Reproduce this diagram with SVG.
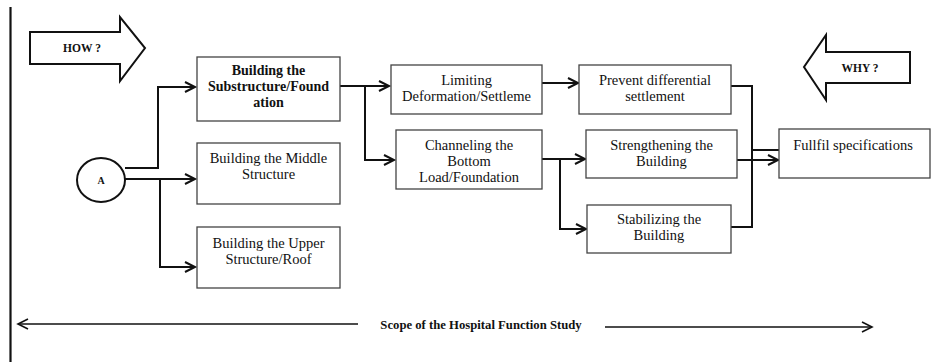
<svg xmlns="http://www.w3.org/2000/svg" width="935" height="362" viewBox="0 0 935 362">
<style>
.box{fill:#fff;stroke:#444;stroke-width:1.3}
.t{font-family:"Liberation Serif","Times New Roman",serif;font-size:14.5px;fill:#111;text-anchor:middle}
.b{font-weight:bold}
.s{font-size:11.5px}
.c{fill:none;stroke:#111;stroke-width:2}
.big{fill:#fff;stroke:#111;stroke-width:2}
</style>
<defs>
<marker id="ah" markerUnits="userSpaceOnUse" markerWidth="14" markerHeight="14" refX="11" refY="6" orient="auto">
<path d="M1,1 L11,6 L1,11" fill="none" stroke="#111" stroke-width="2"/>
</marker>
<marker id="ahl" markerUnits="userSpaceOnUse" markerWidth="14" markerHeight="14" refX="11" refY="6" orient="auto">
<path d="M1,1 L11,6 L1,11" fill="none" stroke="#111" stroke-width="1.6"/>
</marker>
</defs>
<rect width="935" height="362" fill="#fff"/>
<line x1="10.5" y1="7" x2="10.5" y2="362" stroke="#111" stroke-width="2.2"/>

<g id="how">
<polygon class="big" points="30,32 120,32 120,17 145,48 120,81 120,64 30,64"/>
<text class="t b s" x="82" y="52">HOW ?</text>
</g>
<g id="why">
<polygon class="big" points="910,52 826,52 826,35 804,67 826,100 826,83 910,83"/>
<text class="t b s" x="860" y="72">WHY ?</text>
</g>

<g id="connectors">
<polyline class="c" points="125,168 158,168 158,87 195,87" marker-end="url(#ah)"/>
<polyline class="c" points="125,179 195,179" marker-end="url(#ah)"/>
<polyline class="c" points="160,179 160,267 195,267" marker-end="url(#ah)"/>
<polyline class="c" points="340,86 389,86" marker-end="url(#ah)"/>
<polyline class="c" points="365,86 365,160 394,160" marker-end="url(#ah)"/>
<polyline class="c" points="542,83 578,83" marker-end="url(#ah)"/>
<polyline class="c" points="542,159 585,159" marker-end="url(#ah)"/>
<polyline class="c" points="560,159 560,229 586,229" marker-end="url(#ah)"/>
<polyline class="c" points="731,86 752,86 752,150 779,150"/>
<polyline class="c" points="731,227 752,227 752,150"/>
<polyline class="c" points="737,160 778,160" marker-end="url(#ah)"/>
<polyline fill="none" stroke="#111" stroke-width="1.6" points="358,324 18,324" marker-end="url(#ahl)"/>
<polyline fill="none" stroke="#111" stroke-width="1.6" points="605,327 872,327" marker-end="url(#ahl)"/>
</g>

<g id="nodeA">
<ellipse cx="101" cy="180" rx="24" ry="22" fill="#fff" stroke="#111" stroke-width="2"/>
<text class="t b" x="101" y="184" style="font-size:10px">A</text>
</g>

<g id="n1">
<rect class="box" x="197" y="57" width="143" height="64"/>
<text class="t b" x="268.5" y="75" style="font-size:14px">Building the</text>
<text class="t b" x="268.5" y="91" style="font-size:14px">Substructure/Found</text>
<text class="t b" x="268.5" y="107" style="font-size:14px">ation</text>
</g>
<g id="n2">
<rect class="box" x="197" y="143" width="143" height="61"/>
<text class="t" x="268.5" y="163">Building the Middle</text>
<text class="t" x="268.5" y="179">Structure</text>
</g>
<g id="n3">
<rect class="box" x="197" y="227" width="143" height="61"/>
<text class="t" x="268.5" y="248">Building the Upper</text>
<text class="t" x="268.5" y="264">Structure/Roof</text>
</g>
<g id="n4">
<rect class="box" x="391" y="65" width="151" height="49"/>
<text class="t" x="466.5" y="85">Limiting</text>
<text class="t" x="466.5" y="101">Deformation/Settleme</text>
</g>
<g id="n5">
<rect class="box" x="396" y="130" width="146" height="59"/>
<text class="t" x="469" y="150">Channeling the</text>
<text class="t" x="469" y="166">Bottom</text>
<text class="t" x="469" y="182">Load/Foundation</text>
</g>
<g id="n6">
<rect class="box" x="579" y="65" width="152" height="49"/>
<text class="t" x="655" y="85">Prevent differential</text>
<text class="t" x="655" y="101">settlement</text>
</g>
<g id="n7">
<rect class="box" x="586" y="130" width="151" height="48"/>
<text class="t" x="661.5" y="150">Strengthening the</text>
<text class="t" x="661.5" y="166">Building</text>
</g>
<g id="n8">
<rect class="box" x="587" y="205" width="144" height="48"/>
<text class="t" x="659" y="224">Stabilizing the</text>
<text class="t" x="659" y="240">Building</text>
</g>
<g id="n9">
<rect class="box" x="779" y="129" width="151" height="49"/>
<text class="t" x="853" y="150">Fullfil specifications</text>
</g>

<text class="t b" x="481" y="329" style="font-size:12.7px">Scope of the Hospital Function Study</text>
</svg>
